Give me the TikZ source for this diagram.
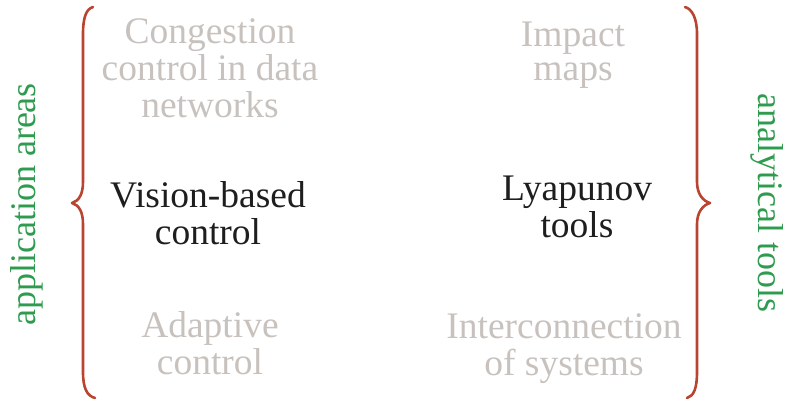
\documentclass[tikz,border=0pt]{standalone}
\usepackage{fontspec}
\setmainfont{Liberation Serif}
\definecolor{greytext}{RGB}{200,194,190}
\definecolor{darktext}{RGB}{30,30,30}
\definecolor{bracered}{RGB}{185,68,48}
\definecolor{labelgreen}{RGB}{46,155,78}
\begin{document}
\begin{tikzpicture}[x=1pt,y=1pt,
  topic/.style={align=center,inner sep=0pt,font=\fontsize{37.5}{34}\selectfont},
  faded/.style={topic,text=greytext},
  active/.style={topic,text=darktext},
  sidelabel/.style={inner sep=0pt,text=labelgreen,font=\fontsize{36}{40}\selectfont},
  bracepath/.style={draw=bracered,line width=2.6pt,line cap=round,line join=round}]
\useasboundingbox (0,0) rectangle (785,400);
% topic nodes
\node[faded]  (cong)  at (210,326.8) {Congestion\strut\\control in data\strut\\networks\strut};
\node[faded]  (imp)   at (573,343.3) {Impact\strut\\maps\strut};
\node[active] (vis)   at (208,181.8) {Vision-based\strut\\control\strut};
\node[active] (lya)   at (577,188.3) {Lyapunov\strut\\tools\strut};
\node[faded]  (adapt) at (210,51.8)  {Adaptive\strut\\control\strut};
\node[faded]  (inter) at (564,50.3)  {Interconnection\strut\\of systems\strut};
% side labels
\node[sidelabel,rotate=90]  (app) at (27,195.5) {application areas};
\node[sidelabel,rotate=-90] (ana) at (767.5,197) {analytical tools};
% left brace
\draw[bracepath] (93,393) .. controls (86,391) and (83,382) .. (83,366)
  -- (83,218) .. controls (83,206) and (79,199) .. (72,197)
  .. controls (79,195) and (83,188) .. (83,176)
  -- (83,28) .. controls (83,12) and (87,4) .. (95,2);
% right brace
\draw[bracepath] (685,393) .. controls (692,391) and (697,382) .. (697,366)
  -- (697,218) .. controls (697,206) and (703,199) .. (710,197)
  .. controls (703,195) and (697,188) .. (697,176)
  -- (697,28) .. controls (697,12) and (694,4) .. (687,2);
\end{tikzpicture}
\end{document}
